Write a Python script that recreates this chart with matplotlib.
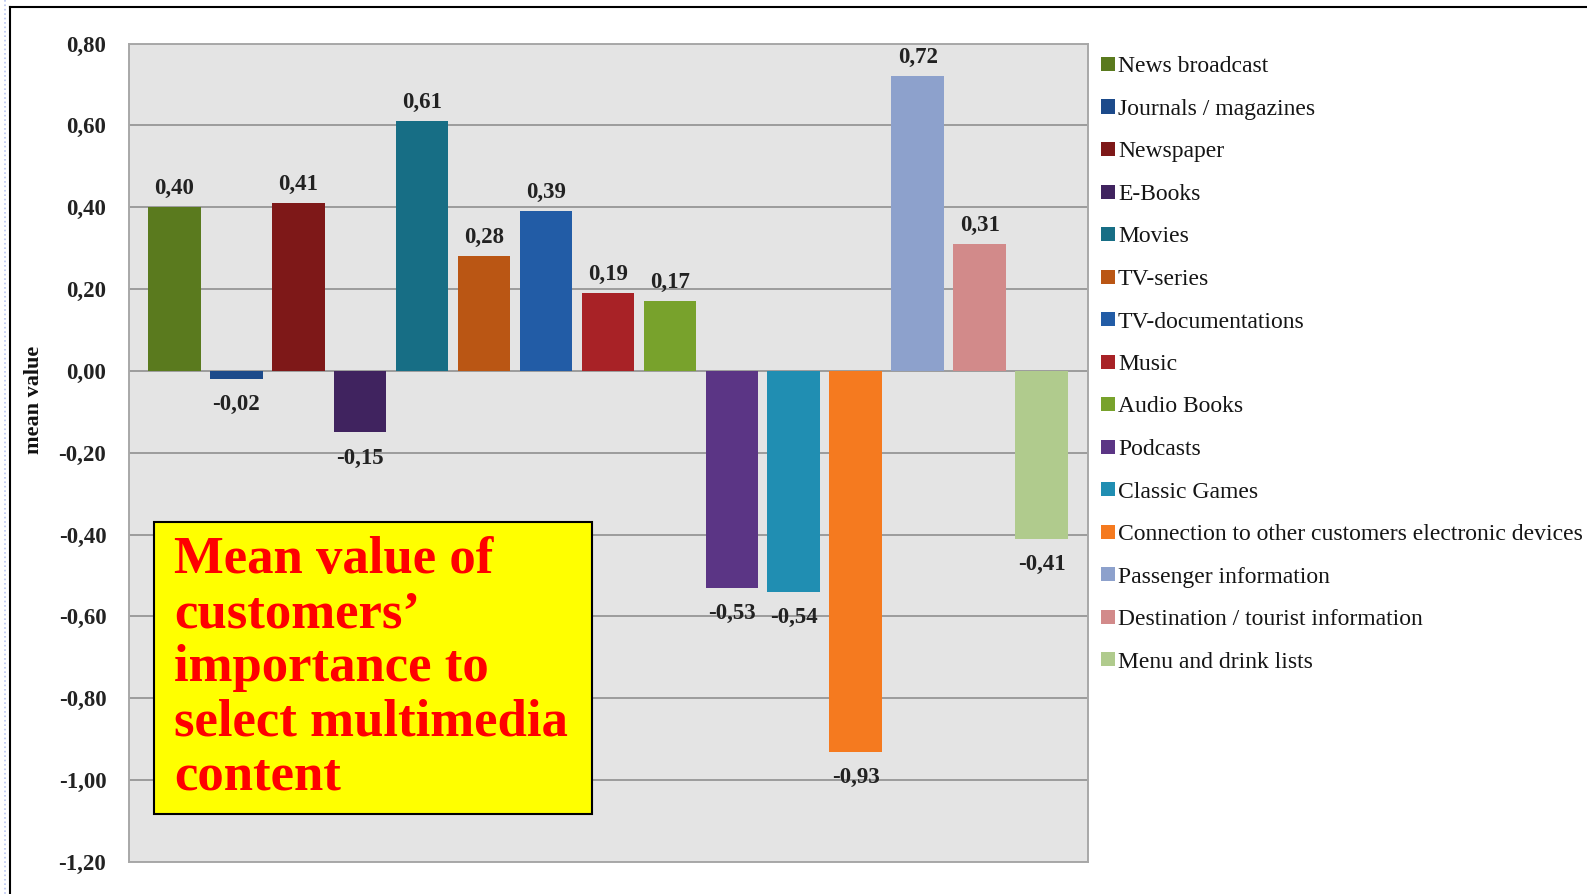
import matplotlib
matplotlib.use("Agg")
import matplotlib.pyplot as plt
from matplotlib.patches import Rectangle
from matplotlib.lines import Line2D

# data
categories = ["News broadcast", "Journals / magazines", "Newspaper", "E-Books", "Movies",
              "TV-series", "TV-documentations", "Music", "Audio Books", "Podcasts",
              "Classic Games", "Connection to other customers electronic devices",
              "Passenger information", "Destination / tourist information", "Menu and drink lists"]
mean_values = [0.40, -0.02, 0.41, -0.15, 0.61, 0.28, 0.39, 0.19, 0.17, -0.53,
               -0.54, -0.93, 0.72, 0.31, -0.41]
bar_colors = ["#5A7A1E", "#1C4A8A", "#7E1818", "#40235F", "#176E85",
              "#BA5614", "#225CA6", "#A82226", "#78A22C", "#5B3585",
              "#208EB2", "#F57A1F", "#8DA1CC", "#D28A8A", "#B0CB8D"]
yticks = [0.8, 0.6, 0.4, 0.2, 0.0, -0.2, -0.4, -0.6, -0.8, -1.0, -1.2]
box_lines = ["Mean value of", "customers\u2019", "importance to", "select multimedia", "content"]

W, H = 1587, 894
plt.rcParams["font.family"] = ["Liberation Serif", "DejaVu Serif"]

fig = plt.figure(figsize=(W / 100, H / 100), dpi=100)
fig.patch.set_facecolor("white")


def fx(px):
    return px / W


def fy(py):
    return 1 - py / H


# plot area in pixels: left 128.5, right 1088, top 43.5, bottom 862
ax = fig.add_axes([fx(128.5), fy(862), fx(1088 - 128.5), (862 - 43.5) / H])
ax.set_facecolor("#E4E4E4")

x = list(range(len(mean_values)))
bars = ax.bar(x, mean_values, width=0.85, color=bar_colors, zorder=3)

for xi, v in zip(x, mean_values):
    label = f"{v:.2f}".replace(".", ",")
    if v >= 0:
        ax.annotate(label, (xi, v), xytext=(0, 6), textcoords="offset points",
                    ha="center", va="bottom", fontsize=16.5, fontweight="bold", color="#222222")
    else:
        ax.annotate(label, (xi, v), xytext=(0, -11), textcoords="offset points",
                    ha="center", va="top", fontsize=16.5, fontweight="bold", color="#222222")

ax.set_xlim(-0.74, 14.75)
ax.set_ylim(-1.2, 0.8)
ax.set_yticks(yticks)
ax.set_yticklabels([f"{t:.2f}".replace(".", ",") for t in yticks],
                   fontsize=16.5, fontweight="bold", color="#222222")
ax.set_xticks([])
ax.tick_params(axis="y", length=0, pad=16)
ax.grid(axis="y", color="#9C9C9C", linewidth=1.4, zorder=1)
for s in ax.spines.values():
    s.set_color("#A8A8A8")
    s.set_linewidth(1.4)

fig.text(fx(34), fy(400), "mean value", rotation=90, ha="center", va="center",
         fontsize=16, fontweight="bold", color="#111111")

# legend, one row per category
for i, (name, col) in enumerate(zip(categories, bar_colors)):
    yc = 64 + 42.5 * i
    fig.patches.append(Rectangle((fx(1101), fy(yc + 7)), 14 / W, 14 / H,
                                 transform=fig.transFigure, facecolor=col, edgecolor="none"))
    fig.text(fx(1118), fy(yc + 3), name, ha="left", va="center", fontsize=17, color="#151515")

# yellow annotation box
fig.patches.append(Rectangle((fx(153.5), fy(814)), (592 - 153.5) / W, (814 - 522) / H,
                             transform=fig.transFigure, facecolor="#FFFF00",
                             edgecolor="black", linewidth=1.5, zorder=5))
for i, line in enumerate(box_lines):
    fig.text(fx(174), fy(573 + 54.25 * i), line, ha="left", va="baseline",
             fontsize=38, fontweight="bold", color="#FF0000", zorder=6)

# slide frame lines
fig.add_artist(Line2D([fx(10), fx(10)], [fy(7), 0], color="black", linewidth=1.5))
fig.add_artist(Line2D([fx(10), 1], [fy(7), fy(7)], color="black", linewidth=1.5))
fig.add_artist(Line2D([fx(5), fx(5)], [1, 0], color="#B8C4F0", linewidth=1.2, linestyle=":"))

fig.savefig("out.png", dpi=100)
